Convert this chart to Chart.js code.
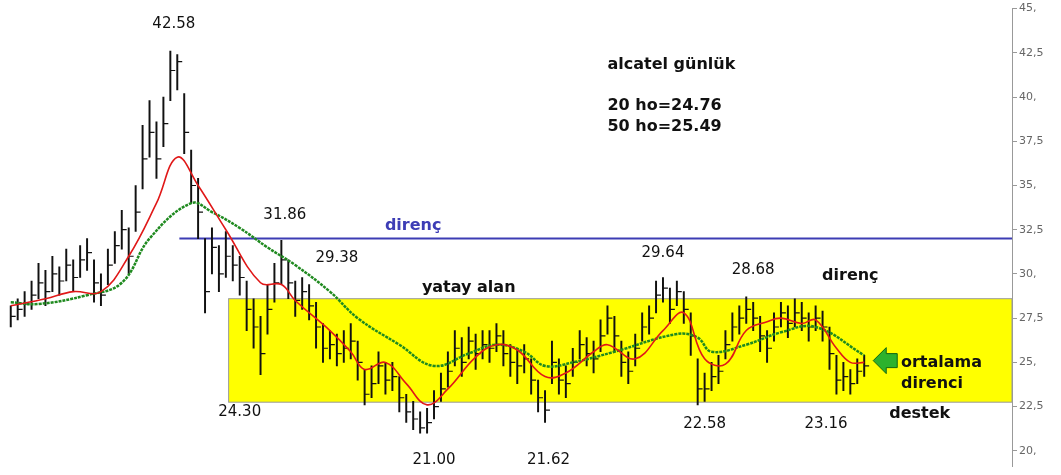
<!DOCTYPE html>
<html><head><meta charset="utf-8">
<script src="https://cdn.jsdelivr.net/npm/chart.js@4/dist/chart.umd.min.js"></script>
<style>html,body{margin:0;background:#fff}#wrap{width:1061px;height:475px}</style>
</head><body><div id="wrap"><canvas id="c"></canvas></div>
<script>
// gunluk kapanis, yuksek, dusuk
const closes = [27.6,28.0,28.3,28.8,29.5,29.0,30.0,29.6,30.5,29.8,30.8,31.2,29.5,28.8,30.5,31.6,32.5,31.0,33.5,36.5,
  38.0,36.5,38.5,41.5,42.0,38.0,35.0,33.5,29.0,31.5,30.0,31.0,30.5,29.8,28.0,27.0,25.5,28.0,29.5,30.8,
  29.5,28.5,29.0,28.2,27.0,25.8,26.0,25.5,25.8,26.2,25.0,23.2,23.8,24.8,24.0,24.2,23.0,22.2,21.8,21.3,
  21.6,22.5,23.5,24.5,25.8,25.0,26.2,25.5,26.0,25.8,26.5,25.5,25.0,24.8,25.2,24.0,23.0,22.3,25.0,24.0,
  23.8,25.0,26.0,25.5,25.2,26.5,27.5,26.5,25.0,24.5,25.8,27.0,27.5,28.8,29.2,28.0,29.0,28.0,26.5,23.5,
  23.5,24.2,24.5,26.0,27.0,27.5,28.0,27.5,26.5,25.8,27.0,27.8,27.2,27.8,27.5,27.0,27.5,27.0,25.5,24.0,
  24.2,23.8,24.5,24.8];
const highs = [28.2,28.6,29.0,29.6,30.6,30.2,31.0,30.4,31.4,30.8,31.6,32.0,30.8,30.0,31.4,32.4,33.6,32.6,35.0,38.4,
  39.8,38.6,40.0,42.6,42.4,40.2,37.0,35.4,32.0,32.6,31.6,32.4,31.6,31.0,29.6,28.6,27.6,29.4,30.6,31.9,
  30.8,29.6,29.8,29.4,28.4,27.2,26.8,26.6,26.8,27.2,26.2,24.6,24.8,25.6,25.0,25.0,24.2,23.2,22.8,22.2,
  22.4,23.4,24.4,25.6,26.8,26.4,27.0,26.6,26.8,26.8,27.2,26.8,26.0,25.8,26.0,25.2,24.0,23.4,26.2,25.2,
  24.8,25.8,26.8,26.4,26.2,27.4,28.2,27.6,26.2,25.6,26.6,27.8,28.2,29.6,29.8,29.2,29.6,29.0,27.8,25.2,
  24.4,25.0,25.4,26.8,27.8,28.2,28.7,28.4,27.6,26.8,27.8,28.4,28.2,28.6,28.4,27.8,28.2,27.9,27.0,25.4,
  25.0,24.6,25.2,25.4];
const lows = [27.0,27.4,27.6,28.0,28.6,28.2,29.0,28.8,29.6,29.0,29.8,30.2,28.4,28.2,29.4,30.6,31.4,30.0,32.4,34.8,
  36.6,35.4,37.2,39.8,40.4,36.8,34.0,32.0,27.8,30.0,29.0,29.8,29.6,28.8,26.8,25.8,24.3,26.6,28.4,29.4,
  28.6,27.6,28.0,27.4,25.8,25.0,25.2,24.8,25.0,25.2,24.0,22.6,23.0,23.8,23.2,23.4,22.2,21.6,21.2,21.0,
  21.0,21.8,22.8,23.6,24.8,24.2,25.2,24.6,25.2,25.0,25.6,24.8,24.2,23.8,24.4,23.2,22.2,21.6,23.8,23.2,
  23.0,24.2,25.2,24.8,24.4,25.6,26.6,25.6,24.2,23.8,24.8,26.2,26.6,27.8,28.4,27.2,28.2,27.2,25.4,22.6,
  22.8,23.4,23.8,25.2,26.2,26.6,27.2,26.8,25.6,25.0,26.2,27.0,26.4,27.0,26.8,26.2,26.8,26.2,24.6,23.2,
  23.4,23.2,23.8,24.2];
// hareketli ortalamalar (bar sirasi, deger)
const ma20x = [0,5,9,13,17,21,24,27,31,36,39,41,46,49,51,54,57,60,63,67,70,73,77,80,84,86,90,94,97,100,103,106,109,111,114,116,119,121,123];
const ma20y = [28.2,28.6,29.0,29.0,31.0,34.0,36.6,35.0,32.5,29.5,29.4,28.5,26.8,25.6,24.6,25.0,23.8,22.6,23.5,25.3,26.0,25.7,24.2,24.4,25.6,26.0,25.2,26.8,27.8,25.2,24.9,26.8,27.3,27.5,27.2,27.4,25.8,25.0,25.0];
const ma50x = [0,4,11,16,20,26,29,33,37,41,46,50,56,61,66,70,74,77,81,87,96,99,101,106,111,116,123];
const ma50y = [28.4,28.3,28.8,29.5,32.0,34.0,33.5,32.6,31.5,30.5,29.0,27.5,26.0,24.8,25.5,26.0,25.6,24.8,25.0,25.6,26.6,26.4,25.6,26.0,26.7,27.0,25.4];
const yTicks = [20,22.5,25,27.5,30,32.5,35,37.5,40,42.5,45];
const resistance = 32.0, boxTop = 28.6, boxBottom = 22.75;
const notes = [
  {t:'42.58', x:23.5, y:44.1}, {t:'31.86', x:39.5, y:33.3}, {t:'29.38', x:47, y:30.9},
  {t:'24.30', x:33, y:22.2}, {t:'21.00', x:61, y:19.5}, {t:'21.62', x:77.5, y:19.5},
  {t:'29.64', x:94, y:31.2}, {t:'28.68', x:107, y:30.2}, {t:'22.58', x:100, y:21.5},
  {t:'23.16', x:117.5, y:21.5}, {t:'yatay alan', x:66, y:29.2, b:1},
  {t:'direnç', x:121, y:29.9, b:1}, {t:'destek', x:131, y:22.1, b:1},
  {t:'direnç', x:58, y:32.7, b:1, c:'#3d3db5'}
];

const bars = closes.map((c, i) => ({x: i, y: [lows[i], highs[i]]}));
const closePts = closes.map((c, i) => ({x: i + 0.35, y: c}));

new Chart(document.getElementById('c'), {
  data: {
    datasets: [
      {type: 'bar', data: bars, backgroundColor: '#111', barThickness: 1.3, order: 3},
      {type: 'line', data: closePts, showLine: false, pointStyle: 'line', pointRadius: 2.5, borderColor: '#111', borderWidth: 1.2, order: 3},
      {type: 'line', data: ma50x.map((x, i) => ({x, y: ma50y[i]})), borderColor: '#1f8a1f', borderWidth: 2.5, borderDash: [3, 1], pointRadius: 0, tension: 0.4, order: 2},
      {type: 'line', data: ma20x.map((x, i) => ({x, y: ma20y[i]})), borderColor: '#e01818', borderWidth: 1.6, pointRadius: 0, tension: 0.4, order: 1},
    ],
  },
  options: {
    responsive: true, maintainAspectRatio: false, animation: false,
    layout: {padding: {top: -4}},
    plugins: {legend: {display: false}, tooltip: {enabled: false}},
    scales: {
      x: {type: 'linear', offset: false, min: -0.8, max: 144.3, display: false},
      y: {
        position: 'right', min: 19.12, max: 45,
        afterBuildTicks: (ax) => { ax.ticks = yTicks.map((v) => ({value: v})); },
        afterFit: (ax) => { ax.width = 49; },
        grid: {drawOnChartArea: false, color: '#999', tickLength: 5},
        border: {color: '#999'},
        ticks: {color: '#666', font: {family: 'DejaVu Sans', size: 11}, padding: 2,
          callback: (v) => Number.isInteger(v) ? v + ',' : String(v).replace('.', ',')},
      },
    },
  },
  plugins: [{
    id: 'zemin',
    beforeDatasetsDraw(chart) {
      const {ctx, scales: {x, y}, chartArea} = chart;
      ctx.save();
      ctx.fillStyle = '#ffff00';
      ctx.strokeStyle = '#999';
      const l = x.getPixelForValue(31.4), t = y.getPixelForValue(boxTop), b = y.getPixelForValue(boxBottom);
      ctx.fillRect(l, t, chartArea.right - l, b - t);
      ctx.strokeRect(l, t, chartArea.right - l, b - t);
      ctx.strokeStyle = '#3c3cb4'; ctx.lineWidth = 2;
      ctx.beginPath();
      ctx.moveTo(x.getPixelForValue(24.3), y.getPixelForValue(resistance));
      ctx.lineTo(chartArea.right, y.getPixelForValue(resistance));
      ctx.stroke();
      ctx.restore();
    },
    afterDatasetsDraw(chart) {
      const {ctx, scales: {x, y}} = chart;
      ctx.save();
      ctx.textAlign = 'center'; ctx.textBaseline = 'middle';
      notes.forEach((n) => {
        ctx.font = (n.b ? 'bold 16px' : '15px') + ' "DejaVu Sans", Verdana, sans-serif';
        ctx.fillStyle = n.c || '#111';
        ctx.fillText(n.t, x.getPixelForValue(n.x), y.getPixelForValue(n.y));
      });
      ctx.textAlign = 'left';
      ctx.font = 'bold 16px "DejaVu Sans", Verdana, sans-serif';
      ctx.fillStyle = '#111';
      ctx.fillText('alcatel günlük', x.getPixelForValue(86), y.getPixelForValue(41.8));
      ctx.fillText('20 ho=24.76', x.getPixelForValue(86), y.getPixelForValue(39.5));
      ctx.fillText('50 ho=25.49', x.getPixelForValue(86), y.getPixelForValue(38.3));
      ctx.fillText('ortalama', x.getPixelForValue(128.3), y.getPixelForValue(25.0));
      ctx.fillText('direnci', x.getPixelForValue(128.3), y.getPixelForValue(23.8));
      // yesil ok
      const ax = x.getPixelForValue(124.3), ay = y.getPixelForValue(25.1);
      ctx.fillStyle = '#2db22d'; ctx.strokeStyle = '#116611'; ctx.lineWidth = 1;
      ctx.beginPath();
      ctx.moveTo(ax, ay); ctx.lineTo(ax + 13, ay - 13); ctx.lineTo(ax + 13, ay - 7);
      ctx.lineTo(ax + 24, ay - 7); ctx.lineTo(ax + 24, ay + 7); ctx.lineTo(ax + 13, ay + 7);
      ctx.lineTo(ax + 13, ay + 13); ctx.closePath(); ctx.fill(); ctx.stroke();
      ctx.restore();
    },
  }],
});
</script></body></html>
